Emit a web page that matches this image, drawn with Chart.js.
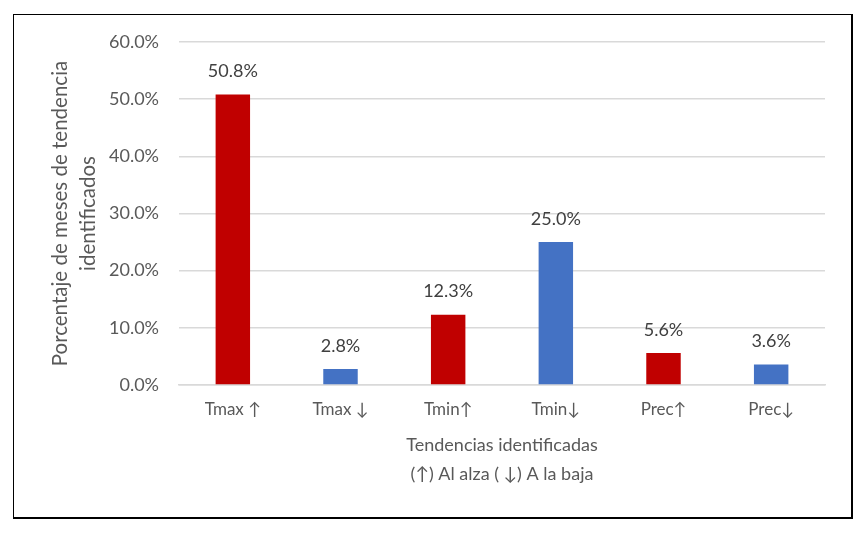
<!DOCTYPE html>
<html>
<head>
<meta charset="utf-8">
<script src="https://cdn.jsdelivr.net/npm/chart.js@4"></script>
<style>
  html, body { margin: 0; padding: 0; background: #fff; }
  #wrap { position: relative; width: 866px; height: 534px; }
  #frame {
    position: absolute; left: 13px; top: 14px; width: 837px; height: 502px;
    border: 1px solid #000; border-right-width: 2px; border-bottom-width: 2px;
    pointer-events: none;
  }
</style>
</head>
<body>
<div id="wrap">
  <canvas id="chart" width="866" height="534"></canvas>
  <div id="frame"></div>
</div>
<script>
// categorias y valores (% de meses con tendencia)
const categories = ['Tmax ↑', 'Tmax ↓', 'Tmin↑', 'Tmin↓', 'Prec↑', 'Prec↓'];
const values = [50.8, 2.8, 12.3, 25.0, 5.6, 3.6];
const barColors = ['#C00000', '#4472C4', '#C00000', '#4472C4', '#C00000', '#4472C4'];
const yTitle = ['Porcentaje de meses de tendencia', 'identificados'];
const xTitle = ['Tendencias identificadas', '(↑) Al alza ( ↓) A la baja'];

const FONT = 'Lato, "DejaVu Sans", sans-serif';

// etiquetas de valor encima de cada barra
const valueLabels = {
    id: 'valueLabels',
    afterDatasetsDraw(chart) {
        const ctx = chart.ctx;
        const meta = chart.getDatasetMeta(0);
        ctx.save();
        ctx.font = '18px ' + FONT;
        ctx.fillStyle = '#404040';
        ctx.textAlign = 'center';
        ctx.textBaseline = 'middle';
        meta.data.forEach((bar, i) => {
            ctx.fillText(values[i].toFixed(1) + '%', bar.x, bar.y - 23);
        });
        ctx.restore();
    }
};

new Chart(document.getElementById('chart'), {
    type: 'bar',
    data: {
        labels: categories,
        datasets: [{
            data: values,
            backgroundColor: barColors,
            barPercentage: 0.32,
            categoryPercentage: 1.0
        }]
    },
    options: {
        responsive: false,
        animation: false,
        layout: { padding: { left: 46, right: 41, top: 42, bottom: 45 } },
        plugins: {
            legend: { display: false },
            tooltip: { enabled: false }
        },
        scales: {
            x: {
                afterFit: s => { s.height = 104; },
                grid: { display: false, drawTicks: false },
                border: { display: true, color: '#D9D9D9', width: 1.5 },
                ticks: { color: '#595959', font: { family: FONT, size: 17 }, padding: 14 },
                title: {
                    display: true,
                    text: xTitle,
                    color: '#595959',
                    font: { family: FONT, size: 18, lineHeight: 1.62 },
                    padding: { top: 0, bottom: 0 }
                }
            },
            y: {
                min: 0,
                max: 60,
                afterFit: s => { s.width = 133; },
                grid: { color: '#D9D9D9', lineWidth: 1.5, drawTicks: false },
                border: { display: false },
                ticks: {
                    stepSize: 10,
                    color: '#595959',
                    font: { family: FONT, size: 18 },
                    padding: 20,
                    callback: v => v.toFixed(1) + '%'
                },
                title: {
                    display: true,
                    text: yTitle,
                    color: '#595959',
                    font: { family: FONT, size: 20.5, lineHeight: 1.37 },
                    padding: { top: 0, bottom: 0 }
                }
            }
        }
    },
    plugins: [valueLabels]
});
</script>
</body>
</html>
